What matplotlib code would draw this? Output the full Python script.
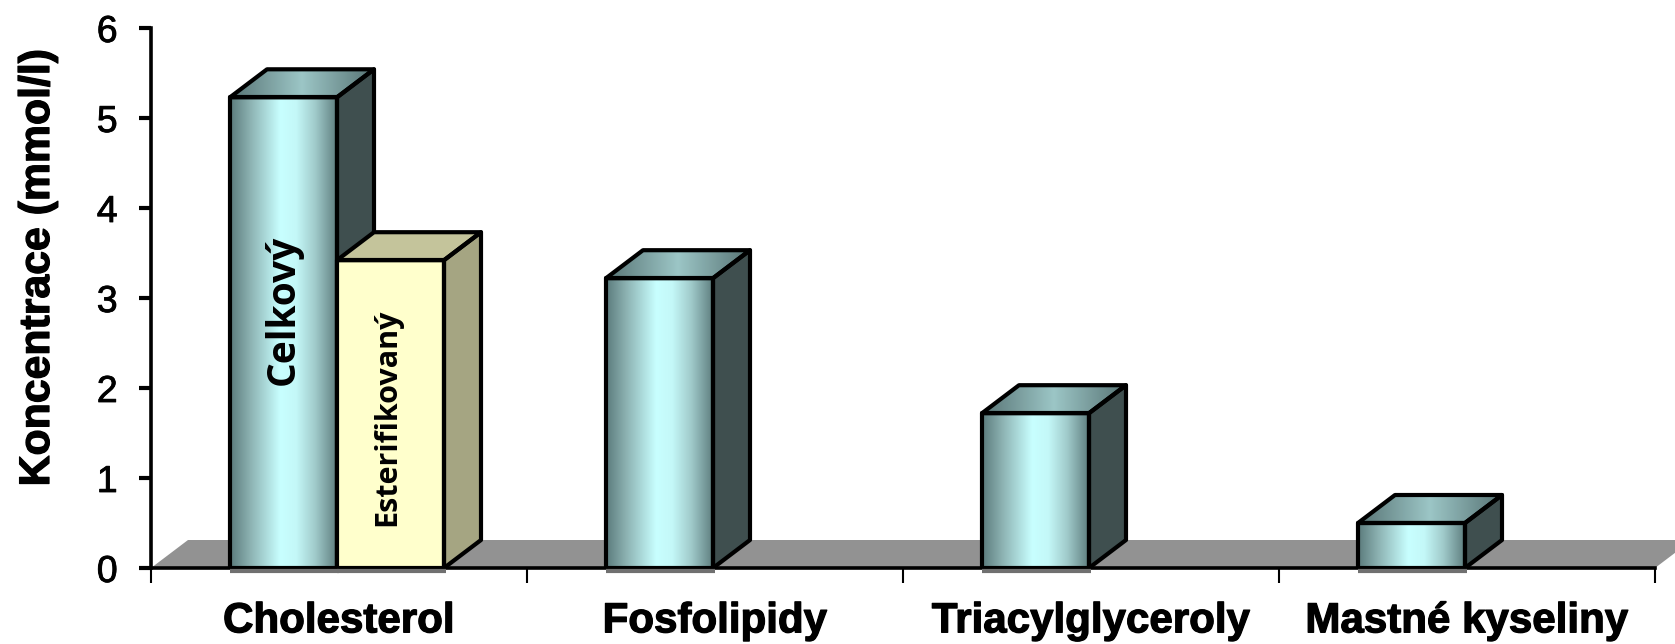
import numpy as np
import matplotlib
matplotlib.use("Agg")
import matplotlib.pyplot as plt
import matplotlib.patheffects as pe
from matplotlib.colors import LinearSegmentedColormap
from matplotlib.patches import Polygon

categories = ["Cholesterol", "Fosfolipidy", "Triacylglyceroly", "Mastné kyseliny"]
celkovy = [5.23, 3.22, 1.72, 0.50]
esterifikovany = [3.42, None, None, None]
yticks = [0, 1, 2, 3, 4, 5, 6]
ylabel = "Koncentrace (mmol/l)"
label_celkovy = "Celkový"
label_ester = "Esterifikovaný"

W, H = 1675, 644
L, R, T, B = 151, 1655, 28, 568
fig = plt.figure(figsize=(W / 100, H / 100), dpi=100, facecolor="white")
ax = fig.add_axes([L / W, 1 - B / H, (R - L) / W, (B - T) / H])
ax.set_xlim(0, len(categories))
ax.set_ylim(0, 6)

px = (len(categories)) / (R - L)
py = 6 / (B - T)
DX, DY = 37 * px, 28 * py
BW = 107 * px
OFF = -2 * px
LW = 3.0

front_cmap = LinearSegmentedColormap.from_list(
    "front", [(0, "#5b7b7c"), (0.2, "#8fb5b5"), (0.47, "#c8ffff"), (0.62, "#c4f8f8"), (0.8, "#a0caca"), (1, "#5f7f80")])
top_cmap = LinearSegmentedColormap.from_list(
    "top", [(0, "#587475"), (0.5, "#9cc6c6"), (1, "#587475")])
grad = np.linspace(0, 1, 256).reshape(1, -1)
heavy = [pe.withStroke(linewidth=0.9, foreground="black")]


def box(x, v, z, face=None, top=None, side="#3f4f4f"):
    x2 = x + BW
    if face is None:
        ax.imshow(grad, extent=(x, x2, 0, v), cmap=front_cmap, aspect="auto", zorder=z, interpolation="bilinear")
    else:
        ax.fill([x, x2, x2, x], [0, 0, v, v], color=face, zorder=z, lw=0)
    top_pts = [(x, v), (x2, v), (x2 + DX, v + DY), (x + DX, v + DY)]
    tp = Polygon(top_pts, closed=True, fc=top or "none", ec="none", zorder=z)
    ax.add_patch(tp)
    if top is None:
        im = ax.imshow(grad, extent=(x, x2 + DX, v, v + DY), cmap=top_cmap, aspect="auto", zorder=z,
                       interpolation="bilinear")
        im.set_clip_path(tp)
    ax.add_patch(Polygon([(x2, 0), (x2 + DX, DY), (x2 + DX, v + DY), (x2, v)], closed=True,
                         fc=side, ec="black", lw=LW, zorder=z + 0.1, joinstyle="round"))
    ax.add_patch(Polygon(top_pts, closed=True, fc="none", ec="black", lw=LW, zorder=z + 0.1, joinstyle="round"))
    ax.add_patch(Polygon([(x, 0), (x2, 0), (x2, v), (x, v)], closed=True, fc="none", ec="black", lw=LW,
                         zorder=z + 0.2, joinstyle="round"))
    ax.plot([x, x2 + 2 * px], [-3 * py, -3 * py], color="#707070", lw=3, zorder=z + 0.3, clip_on=False,
            solid_capstyle="butt")


# floor
ax.add_patch(Polygon([(0, 0), (DX, DY), (len(categories) + DX, DY), (len(categories), 0)], closed=True,
                     fc="#929292", ec="none", zorder=1, clip_on=False))

for i, v in enumerate(celkovy):
    box(i + 0.5 - BW + OFF, v, 3)
for i, v in enumerate(esterifikovany):
    if v is not None:
        box(i + 0.5 + OFF, v, 4, face="#ffffcc", top="#c4c49b", side="#a5a582")

ax.set_xlim(0, len(categories))
ax.set_ylim(0, 6)

for s in ("top", "right"):
    ax.spines[s].set_visible(False)
for s in ("left", "bottom"):
    ax.spines[s].set_linewidth(2.6)
    ax.spines[s].set_zorder(2.5)
ax.patch.set_alpha(0)

ax.set_yticks(yticks)
ax.tick_params(axis="y", length=9, width=3, pad=15, labelsize=27)
ax.set_xticks(range(len(categories) + 1))
ax.set_xticklabels([])
ax.tick_params(axis="x", which="major", length=11, width=1.5)
ax.set_xticks(np.arange(len(categories)) + 0.5, minor=True)
ax.set_xticklabels(categories, minor=True, fontsize=30.3, fontweight="bold", family="Liberation Sans")
ax.tick_params(axis="x", which="minor", length=0, pad=24)
for t in ax.get_xticklabels(minor=True):
    t.set_path_effects(heavy)
    t.set_x(t.get_position()[0])
for t in ax.get_yticklabels():
    t.set_family("Liberation Sans")
    t.set_path_effects([pe.withStroke(linewidth=0.6, foreground="black")])

fig.text(38 / W, 1 - 268 / H, ylabel, rotation=90, ha="center", va="center",
         fontsize=30.8, fontweight="bold", family="Liberation Sans", path_effects=heavy)

ax.text(0.5 - BW / 2 + OFF, 2.87, label_celkovy, rotation=90, ha="center", va="center",
        fontsize=28, fontweight="bold", family="Open Sans", zorder=7)
ax.text(0.5 + BW / 2 + OFF - 3 * px, 1.67, label_ester, rotation=90, ha="center", va="center",
        fontsize=22, fontweight="bold", family="Open Sans", zorder=7)

fig.savefig("out.png", dpi=100)
